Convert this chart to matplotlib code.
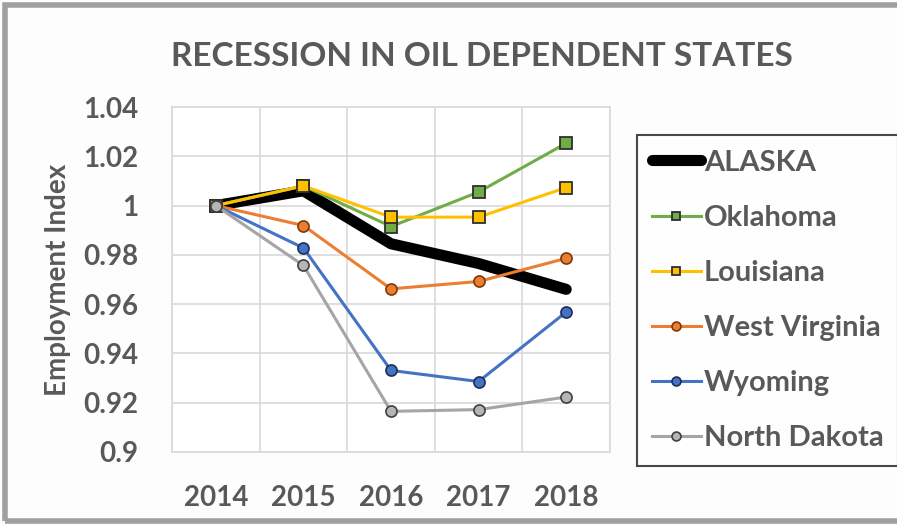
import matplotlib.pyplot as plt
from matplotlib.ticker import FuncFormatter
from matplotlib.patches import Rectangle

# Data
years = ['2014', '2015', '2016', '2017', '2018']
alaska = [1.000, 1.006, 0.9845, 0.9765, 0.966]
oklahoma = [1.000, 1.008, 0.9915, 1.0055, 1.0253]
louisiana = [1.000, 1.008, 0.9953, 0.9953, 1.0073]
west_virginia = [1.000, 0.9919, 0.9662, 0.9692, 0.9786]
wyoming = [1.000, 0.9828, 0.9331, 0.9286, 0.9568]
north_dakota = [1.000, 0.9757, 0.9165, 0.9172, 0.9223]

text_col = '#595959'
plt.rcParams['font.family'] = ['Lato', 'DejaVu Sans']
plt.rcParams['font.weight'] = 'bold'

fig = plt.figure(figsize=(8.97, 5.25), dpi=100)
fig.patch.set_facecolor('#fdfdfd')
ax = fig.add_axes([172/897, 1-452/525, (610-172)/897, (452-107)/525])
ax.set_facecolor('white')

x = list(range(len(years)))
ax.plot(x, alaska, color='black', lw=8, solid_capstyle='round', zorder=3, label='ALASKA')
ax.plot(x, oklahoma, color='#70ad47', lw=2.2, marker='s', ms=8, mfc='#70ad47', mec='#2e2e2e', mew=1.3, zorder=4, label='Oklahoma')
ax.plot(x, louisiana, color='#ffc000', lw=2.2, marker='s', ms=8, mfc='#ffc000', mec='#2e2e2e', mew=1.3, zorder=4, label='Louisiana')
ax.plot(x, west_virginia, color='#ed7d31', lw=2.2, marker='o', ms=8, mfc='#ed7d31', mec='#7a3a10', mew=1.2, zorder=4, label='West Virginia')
ax.plot(x, wyoming, color='#4472c4', lw=2.2, marker='o', ms=8, mfc='#4472c4', mec='#1f2f55', mew=1.2, zorder=4, label='Wyoming')
ax.plot(x, north_dakota, color='#a5a5a5', lw=2.2, marker='o', ms=8, mfc='#b5b5b5', mec='#404040', mew=1.2, zorder=4, label='North Dakota')

ax.set_xlim(-0.5, len(years) - 0.5)
ax.set_ylim(0.9, 1.04)
ax.set_yticks([0.9, 0.92, 0.94, 0.96, 0.98, 1.0, 1.02, 1.04])
ax.yaxis.set_major_formatter(FuncFormatter(lambda v, p: '%g' % round(v, 2)))
ax.set_xticks(x)
ax.set_xticklabels(years)
ax.set_xticks([i - 0.5 for i in range(len(years) + 1)], minor=True)
ax.grid(True, axis='y', which='major', color='#d9d9d9', lw=1.2)
ax.grid(True, axis='x', which='minor', color='#d9d9d9', lw=1.2)
ax.tick_params(which='both', length=0)
ax.tick_params(axis='x', pad=24, labelsize=20, labelcolor=text_col)
ax.tick_params(axis='y', pad=24, labelsize=20, labelcolor=text_col)
for s in ax.spines.values():
    s.set_color('#d9d9d9')
    s.set_linewidth(1.2)

ax.set_ylabel('Employment Index', fontsize=20, color=text_col, fontweight='bold', labelpad=9)

fig.text(482/897, 1-57/525, 'RECESSION IN OIL DEPENDENT STATES', ha='center', va='center',
         fontsize=24, color=text_col, fontweight='bold')

leg = fig.legend(loc='upper left', bbox_to_anchor=(637/897, 1-135/525), borderaxespad=0,
                 fontsize=21, labelcolor=text_col, handlelength=1.7, handletextpad=0.1,
                 labelspacing=1.0, borderpad=0.5, fancybox=False, frameon=True, markerscale=0.8)
leg.get_frame().set_edgecolor('#1a1a1a')
leg.get_frame().set_linewidth(1.5)

# outer chart-area border
fig.patches.append(Rectangle((5/897, 4/525), 1.0, 1 - 9/525, transform=fig.transFigure,
                             fill=False, edgecolor='#a0a0a0', lw=4, figure=fig))

fig.savefig('out.png', dpi=100)
